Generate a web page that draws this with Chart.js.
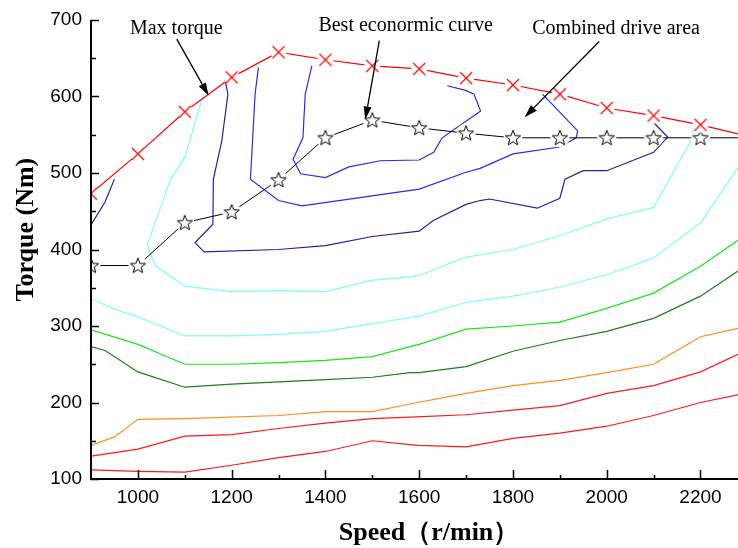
<!DOCTYPE html>
<html>
<head>
<meta charset="utf-8">
<script src="https://cdn.jsdelivr.net/npm/chart.js@4.4.1/dist/chart.umd.min.js"></script>
<style>
  body { margin: 0; background: #fff; }
  #wrap { width: 738px; height: 548px; }
</style>
</head>
<body>
<div id="wrap"><canvas id="chart" width="738" height="548"></canvas></div>
<script>
// speed points (r/min) for the two marked curves
const speedPoints = [900, 1000, 1100, 1200, 1300, 1400, 1500, 1600, 1700, 1800, 1900, 2000, 2100, 2200, 2280];
const maxTorque = [473, 525, 580, 625, 658, 648, 640, 636, 624, 615, 603, 585, 575, 563, 551];
const bestEconomic = [379, 379, 435, 449, 491, 546, 569, 559, 552, 546, 546, 546, 546, 546, 546];

// efficiency contours, [speed, torque] pairs
const navyCorner = [[900, 432], [930, 462], [950, 492]];
const cyanUpper = [[1140, 603], [1100, 520], [1070, 492], [1020, 406], [1037, 379], [1100, 352], [1200, 345], [1300, 346], [1400, 345], [1500, 360], [1580, 364], [1600, 366], [1700, 390], [1800, 400], [1900, 418], [2000, 440], [2100, 455], [2185, 548], [2183, 564]];
const cyanLower = [[900, 336], [950, 322], [1000, 312], [1100, 287], [1200, 287], [1300, 289], [1400, 293], [1500, 303], [1580, 311], [1600, 313], [1700, 331], [1800, 339], [1900, 351], [2000, 367], [2100, 389], [2200, 435], [2280, 507]];
const greenLine = [[900, 295], [1000, 276], [1100, 250], [1200, 250], [1300, 252], [1400, 255], [1500, 260], [1580, 273], [1600, 276], [1700, 296], [1800, 300], [1900, 305], [2000, 323], [2100, 343], [2200, 378], [2280, 412]];
const darkGreenLine = [[900, 273], [930, 268], [1000, 240], [1100, 220], [1200, 224], [1300, 227], [1400, 230], [1500, 233], [1580, 239], [1600, 239], [1700, 247], [1800, 267], [1900, 281], [2000, 293], [2100, 310], [2200, 339], [2280, 372]];
const orangeLine = [[900, 144], [950, 155], [1000, 178], [1100, 179], [1300, 183], [1400, 188], [1500, 188], [1580, 198], [1700, 212], [1800, 222], [1900, 229], [2000, 239], [2100, 250], [2200, 286], [2280, 297]];
const redUpper = [[900, 130], [1000, 139], [1100, 156], [1200, 158], [1300, 166], [1400, 173], [1500, 179], [1580, 181], [1700, 184], [1800, 190], [1900, 196], [2000, 212], [2100, 222], [2200, 240], [2280, 263]];
const redLower = [[900, 112], [1000, 110], [1100, 109], [1200, 118], [1300, 128], [1400, 136], [1500, 150], [1580, 145], [1600, 144], [1700, 142], [1800, 153], [1900, 160], [2000, 169], [2100, 183], [2200, 200], [2280, 210]];
const navyLoop = [[1186, 622], [1192, 603], [1179, 542], [1161, 492], [1160, 433], [1122, 409], [1141, 397], [1300, 400], [1400, 405], [1500, 417], [1600, 424], [1630, 438], [1700, 459], [1730, 464], [1750, 466], [1852, 454], [1900, 467], [1911, 492], [1950, 503], [2000, 503], [2100, 527], [2130, 547], [2100, 566]];
const blueMid = [[1257, 638], [1250, 603], [1240, 492], [1300, 464], [1350, 457], [1600, 479], [1700, 501], [1730, 506], [1800, 525], [1900, 534], [1935, 546], [1938, 555], [1863, 603]];
const blueInner = [[1371, 640], [1357, 603], [1352, 546], [1331, 518], [1347, 499], [1400, 494], [1450, 508], [1517, 516], [1600, 517], [1631, 527], [1649, 546], [1731, 581], [1717, 603], [1699, 608], [1660, 614]];

const xTickLabels = [1000, 1200, 1400, 1600, 1800, 2000, 2200];
const yTickLabels = [100, 200, 300, 400, 500, 600, 700];

// annotation texts with arrow start/end, in data units
const notes = [
  { text: "Max torque", tx: 1082, ty: 688, from: [1083, 675], to: [1151, 601] },
  { text: "Best econormic curve", tx: 1571, ty: 692, from: [1515, 673], to: [1485, 570] },
  { text: "Combined drive area", tx: 2020, ty: 688, from: [1984, 672], to: [1825, 573] },
];

const TITLE_FONT = "bold 26px 'Liberation Serif', 'Times New Roman', serif";

function pts(pairs) {
  return pairs.map((p) => ({ x: p[0], y: p[1] }));
}

function contour(pairs, color) {
  return {
    data: pts(pairs),
    showLine: true,
    borderColor: color,
    borderWidth: 1.2,
    pointRadius: 0,
    tension: 0,
  };
}

function makeCross() {
  const c = document.createElement("canvas");
  c.width = 20;
  c.height = 20;
  const g = c.getContext("2d");
  g.fillStyle = "#fff";
  g.beginPath();
  g.arc(10, 10, 8, 0, Math.PI * 2);
  g.fill();
  g.strokeStyle = "#ff0000";
  g.lineWidth = 1.2;
  g.beginPath();
  g.moveTo(4, 4);
  g.lineTo(16, 16);
  g.moveTo(16, 4);
  g.lineTo(4, 16);
  g.stroke();
  return c;
}

function makeStar() {
  const c = document.createElement("canvas");
  c.width = 22;
  c.height = 22;
  const g = c.getContext("2d");
  g.fillStyle = "#fff";
  g.beginPath();
  g.arc(11, 11, 9.5, 0, Math.PI * 2);
  g.fill();
  g.beginPath();
  for (let i = 0; i < 10; i++) {
    const r = i % 2 === 0 ? 8 : 3.4;
    const a = -Math.PI / 2 + (i * Math.PI) / 5;
    g.lineTo(11 + r * Math.cos(a), 11.5 + r * Math.sin(a));
  }
  g.closePath();
  g.strokeStyle = "#000";
  g.lineWidth = 1;
  g.stroke();
  return c;
}

const crossImg = makeCross();
const starImg = makeStar();
const lastIndex = speedPoints.length - 1;

const axesPlugin = {
  id: "originAxes",
  afterDraw(chart) {
    const { ctx, chartArea, scales } = chart;
    const x = scales.x;
    const y = scales.y;
    ctx.save();
    ctx.strokeStyle = "#000";
    ctx.lineWidth = 2;
    ctx.beginPath();
    ctx.moveTo(chartArea.left, chartArea.top);
    ctx.lineTo(chartArea.left, chartArea.bottom);
    ctx.lineTo(chartArea.right, chartArea.bottom);
    ctx.stroke();

    ctx.lineWidth = 1.5;
    ctx.beginPath();
    for (let v = 100; v <= 700; v += 50) {
      const py = Math.round(y.getPixelForValue(v)) + 0.5;
      const len = v % 100 === 0 ? 8 : 5;
      ctx.moveTo(chartArea.left, py);
      ctx.lineTo(chartArea.left + len, py);
    }
    for (let v = 1000; v <= 2200; v += 100) {
      const px = Math.round(x.getPixelForValue(v)) + 0.5;
      const len = v % 200 === 0 ? 9 : 4;
      ctx.moveTo(px, chartArea.bottom);
      ctx.lineTo(px, chartArea.bottom - len);
    }
    ctx.stroke();

    // axis titles (placed like the original, a bit off the axis middle)
    ctx.fillStyle = "#000";
    ctx.font = TITLE_FONT;
    ctx.textAlign = "center";
    ctx.textBaseline = "middle";
    ctx.fillText("Speed（r/min）", x.getPixelForValue(1621), 533);
    ctx.save();
    ctx.translate(26, y.getPixelForValue(426));
    ctx.rotate(-Math.PI / 2);
    ctx.fillText("Torque (Nm)", 0, 0);
    ctx.restore();

    // annotations
    ctx.font = "20px 'Liberation Serif', 'Times New Roman', serif";
    notes.forEach((n) => {
      ctx.fillText(n.text, x.getPixelForValue(n.tx), y.getPixelForValue(n.ty));
      const x0 = x.getPixelForValue(n.from[0]);
      const y0 = y.getPixelForValue(n.from[1]);
      const x1 = x.getPixelForValue(n.to[0]);
      const y1 = y.getPixelForValue(n.to[1]);
      const ang = Math.atan2(y1 - y0, x1 - x0);
      const headLen = 13;
      const headW = 4;
      const bx = x1 - headLen * Math.cos(ang);
      const by = y1 - headLen * Math.sin(ang);
      ctx.lineWidth = 1.3;
      ctx.beginPath();
      ctx.moveTo(x0, y0);
      ctx.lineTo(bx, by);
      ctx.stroke();
      ctx.beginPath();
      ctx.moveTo(x1, y1);
      ctx.lineTo(bx + headW * Math.sin(ang), by - headW * Math.cos(ang));
      ctx.lineTo(bx - headW * Math.sin(ang), by + headW * Math.cos(ang));
      ctx.closePath();
      ctx.fill();
    });
    ctx.restore();
  },
};

new Chart(document.getElementById("chart"), {
  type: "scatter",
  data: {
    datasets: [
      {
        label: "Max torque",
        data: speedPoints.map((s, i) => ({ x: s, y: maxTorque[i] })),
        showLine: true,
        borderColor: "#ff0000",
        borderWidth: 1.2,
        pointStyle: crossImg,
        pointRadius: (c) => (c.dataIndex === lastIndex ? 0 : 8),
        tension: 0,
      },
      {
        label: "Best economic curve",
        data: speedPoints.map((s, i) => ({ x: s, y: bestEconomic[i] })),
        showLine: true,
        borderColor: "#000",
        borderWidth: 1,
        pointStyle: starImg,
        pointRadius: (c) => (c.dataIndex === lastIndex ? 0 : 8),
        tension: 0,
      },
      contour(navyCorner, "#22229a"),
      contour(navyLoop, "#22229a"),
      contour(blueMid, "#2a2aee"),
      contour(blueInner, "#2a2aee"),
      contour(cyanUpper, "#7ffcfc"),
      contour(cyanLower, "#7ffcfc"),
      contour(greenLine, "#19e619"),
      contour(darkGreenLine, "#1a801a"),
      contour(orangeLine, "#ff8c1a"),
      contour(redUpper, "#ff1a1a"),
      contour(redLower, "#ff1a1a"),
    ],
  },
  options: {
    responsive: false,
    devicePixelRatio: 1,
    animation: false,
    layout: { autoPadding: false, padding: { top: 20, right: 0, left: 0, bottom: 0 } },
    plugins: { legend: { display: false }, tooltip: { enabled: false } },
    scales: {
      x: {
        type: "linear",
        min: 900,
        max: 2280,
        grid: { display: false, drawTicks: false },
        border: { display: false },
        afterBuildTicks: (s) => {
          s.ticks = xTickLabels.map((v) => ({ value: v }));
        },
        afterFit: (s) => {
          s.height = 69;
          s.paddingLeft = 0;
          s.paddingRight = 0;
        },
        ticks: {
          color: "#000",
          padding: 7,
          font: { family: "'Liberation Sans', Arial", size: 19 },
          callback: (v) => String(v),
        },
      },
      y: {
        type: "linear",
        min: 100,
        max: 700,
        grid: { display: false, drawTicks: false },
        border: { display: false },
        afterBuildTicks: (s) => {
          s.ticks = yTickLabels.map((v) => ({ value: v }));
        },
        afterFit: (s) => {
          s.width = 91;
          s.paddingTop = 0;
          s.paddingBottom = 0;
        },
        ticks: {
          color: "#000",
          padding: 9,
          font: { family: "'Liberation Sans', Arial", size: 19 },
          callback: (v) => String(v),
        },
      },
    },
  },
  plugins: [axesPlugin],
});
</script>
</body>
</html>
